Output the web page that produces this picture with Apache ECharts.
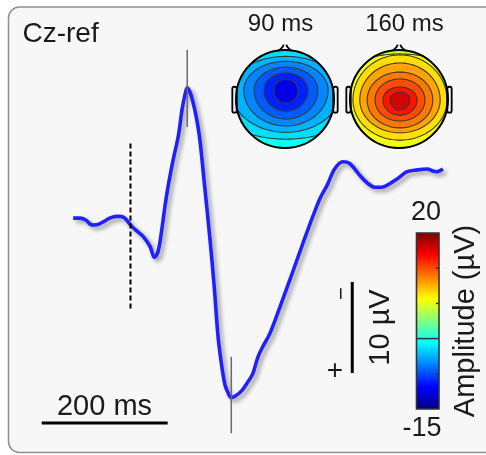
<!DOCTYPE html>
<html>
<head>
<meta charset="utf-8">
<script src="https://cdn.jsdelivr.net/npm/echarts@6/dist/echarts.min.js"></script>
<style>
html,body{margin:0;padding:0;background:#ffffff;}
#chart{width:486px;height:455px;}
</style>
</head>
<body>
<div id="chart"></div>
<script>
// ERP waveform at Cz (negative up), time in ms relative to stimulus onset
const TIME_MS = [-91,-80,-71,-64,-58,-50,-42,-33,-23,-17,
  -9,2,10,20,31,38,44,50,55,60,
  68,76,82,87,90,94,99,105,110,118,
  126,133,139,145,150,155,160,167,177,186,
  194,202,210,221,237,258,274,290,301,312,
  324,337,348,364,377,388,398,407,423,439,
  455,471,479,486,496];
const AMPLITUDE_UV = [0.0,0.0,0.2,0.65,0.75,0.65,0.35,0.0,-0.2,-0.2,
  0.0,0.9,1.4,2.0,3.1,4.3,3.6,1.1,-1.45,-3.6,
  -6.5,-9.05,-12.0,-13.7,-14.3,-13.9,-12.8,-10.9,-8.7,-3.3,
  2.2,7.6,13.0,16.3,18.3,19.2,19.7,19.5,18.9,18.0,
  17.1,15.3,14.1,12.7,9.8,5.8,2.7,-0.3,-2.2,-3.6,
  -5.4,-6.2,-6.0,-4.7,-3.8,-3.4,-3.4,-3.6,-4.3,-5.1,
  -5.3,-5.4,-5.2,-5.1,-5.4];

// latencies of the two topographies
const PEAK_LATENCIES_MS = [90, 160];
const PEAK_MARK_RANGES_UV = [[-18.5, -10], [15.2, 23.6]];
// stimulus onset marker
const ONSET_MS = 0;
const ONSET_RANGE_UV = [-8.2, 10];
// scale bars
const TIME_BAR_MS = [-141, 59];       // 200 ms
const TIME_BAR_LEVEL_UV = 22.5;
const AMP_BAR_UV = [7, 17];           // 10 µV
const AMP_BAR_TIME_MS = 352;

// colour scale
const AMP_RANGE = [-15, 20];
const JET = ['#00007f','#0000ff','#007fff','#00ffff','#7fff7f','#ffff00','#ff7f00','#ff0000','#7f0000'];
const COLORBAR_TICKS = [-8, -1, 6, 13];
const COLORBAR_DIVIDER = -1;

// scalp maps: contour levels (µV) from outside in, with contour radii in head units
const MAP90_FOCUS = [0.02, -0.18];
const MAP90_LEVELS = [-1.5, -3, -4.5, -6, -7.5, -9.5, -11.5];
const MAP90_RX     = [9, 1.63, 1.12, 0.86, 0.65, 0.45, 0.245];
const MAP90_RTOP   = [9, 0.92, 0.69, 0.59, 0.47, 0.35, 0.225];
const MAP90_RBOT   = [9, 1.00, 0.86, 0.73, 0.59, 0.43, 0.265];

const MAP160_FOCUS = [0.02, 0.02];
const MAP160_LEVELS = [5, 6.5, 8, 10, 11.5, 13, 15, 17];
const MAP160_RX     = [9, 1.53, 0.96, 0.82, 0.67, 0.51, 0.35, 0.20];
const MAP160_RTOP   = [9, 0.94, 0.92, 0.755, 0.57, 0.43, 0.265, 0.16];
const MAP160_RBOT   = [9, 1.53, 0.82, 0.67, 0.57, 0.43, 0.31, 0.20];

const FONT = '"Liberation Sans", Arial, Helvetica, sans-serif';
const TEXT_COLOR = '#1a1a1a';

function zip(a, b) { return a.map((v, i) => [v, b[i]]); }
function mapData(levels, rx, rt, rb) {
  return levels.map((v, i) => [v, rx[i], rt[i], rb[i]]);
}

// filled contour band, clipped radially to the unit head circle
function fieldRenderer(focus) {
  const N = 120;
  return function (params, api) {
    const rx = api.value(1), rt = api.value(2), rb = api.value(3);
    const fx = focus[0], fy = focus[1];
    const pts = [];
    for (let k = 0; k < N; k++) {
      const th = 2 * Math.PI * k / N;
      const dx = Math.cos(th), dy = Math.sin(th);
      const ry = dy < 0 ? rt : rb;
      const r = 1 / Math.sqrt((dx / rx) * (dx / rx) + (dy / ry) * (dy / ry));
      const b = fx * dx + fy * dy;
      const tmax = -b + Math.sqrt(b * b - (fx * fx + fy * fy) + 1);
      const rr = Math.min(r, tmax);
      pts.push(api.coord([fx + rr * dx, fy + rr * dy]));
    }
    return {
      type: 'polygon',
      shape: { points: pts },
      style: {
        fill: api.visual('color'),
        stroke: params.dataIndex === 0 ? null : '#3a3a3a',
        lineWidth: 1.1
      }
    };
  };
}

// head outline with nose and ears
function headRenderer(params, api) {
  const c = api.coord([0, 0]);
  const r = api.size([1, 1])[0];
  const ear = (x0, x1) => {
    const p0 = api.coord([x0, -0.25]);
    const p1 = api.coord([x1, 0.28]);
    return {
      type: 'rect',
      shape: { x: Math.min(p0[0], p1[0]), y: p0[1], width: Math.abs(p1[0] - p0[0]), height: p1[1] - p0[1], r: 2 },
      style: { fill: '#f2f2f2', stroke: '#000', lineWidth: 1.8 }
    };
  };
  const noseL = [api.coord([-0.13, -0.985]), api.coord([-0.05, -1.06]), api.coord([-0.03, -1.11])];
  const noseR = [api.coord([0.13, -0.985]), api.coord([0.05, -1.06]), api.coord([0.03, -1.11])];
  return {
    type: 'group',
    children: [
      ear(-1.075, -0.985),
      ear(0.985, 1.075),
      { type: 'polyline', shape: { points: noseL, smooth: 0.5 }, style: { stroke: '#000', lineWidth: 1.8, fill: null } },
      { type: 'polyline', shape: { points: noseR, smooth: 0.5 }, style: { stroke: '#000', lineWidth: 1.8, fill: null } },
      { type: 'circle', shape: { cx: c[0], cy: c[1], r: r }, style: { fill: null, stroke: '#000', lineWidth: 2 } }
    ]
  };
}

// colour bar with frame, ticks and divider
function colorbarRenderer(params, api) {
  const top = api.coord([0, AMP_RANGE[1]]);
  const bot = api.coord([1, AMP_RANGE[0]]);
  const x0 = top[0], x1 = bot[0], y0 = top[1], y1 = bot[1];
  const stops = JET.map((c, i) => ({ offset: i / (JET.length - 1), color: c })).reverse()
    .map(s => ({ offset: 1 - s.offset, color: s.color }));
  const children = [
    { type: 'rect', shape: { x: x0, y: y0, width: x1 - x0, height: y1 - y0 },
      style: { fill: { type: 'linear', x: 0, y: 0, x2: 0, y2: 1, colorStops: stops }, stroke: null } }
  ];
  COLORBAR_TICKS.forEach(t => {
    const p = api.coord([1, t]);
    if (t === COLORBAR_DIVIDER) {
      children.push({ type: 'line', shape: { x1: x0, y1: p[1], x2: x1, y2: p[1] }, style: { stroke: '#333', lineWidth: 1.5 } });
    } else {
      children.push({ type: 'line', shape: { x1: x1 - 3, y1: p[1], x2: x1, y2: p[1] }, style: { stroke: '#333', lineWidth: 1.5 } });
    }
  });
  children.push({ type: 'rect', shape: { x: x0, y: y0, width: x1 - x0, height: y1 - y0 },
    style: { fill: null, stroke: '#333', lineWidth: 1.6 } });
  return { type: 'group', children: children };
}

function label(text, x, y, size, opts) {
  opts = opts || {};
  return {
    type: 'text', x: x, y: y, z: 100, rotation: opts.rotation || 0, silent: true,
    style: {
      text: text, font: size + 'px ' + FONT, fill: TEXT_COLOR,
      align: opts.align || 'center', verticalAlign: 'middle',
      textAlign: opts.align || 'center', textVerticalAlign: 'middle'
    }
  };
}

const chart = echarts.init(document.getElementById('chart'), null, { renderer: 'canvas' });

const hidden = { show: false };
const option = {
  animation: false,
  backgroundColor: '#ffffff',
  grid: [
    { left: 29.7, top: 36, width: 428.4, height: 423.2 },   // waveform
    { left: 236, top: 50, width: 98, height: 98 },           // 90 ms map
    { left: 350, top: 50, width: 98, height: 98 },           // 160 ms map
    { left: 416.5, top: 233, width: 22.5, height: 176 }      // colour bar
  ],
  xAxis: [
    { type: 'value', gridIndex: 0, min: -160, max: 520, ...hidden },
    { type: 'value', gridIndex: 1, min: -1, max: 1, ...hidden },
    { type: 'value', gridIndex: 2, min: -1, max: 1, ...hidden },
    { type: 'value', gridIndex: 3, min: 0, max: 1, ...hidden }
  ],
  yAxis: [
    { type: 'value', gridIndex: 0, min: -20, max: 26, inverse: true, ...hidden },
    { type: 'value', gridIndex: 1, min: -1, max: 1, inverse: true, ...hidden },
    { type: 'value', gridIndex: 2, min: -1, max: 1, inverse: true, ...hidden },
    { type: 'value', gridIndex: 3, min: AMP_RANGE[0], max: AMP_RANGE[1], ...hidden }
  ],
  visualMap: {
    type: 'continuous', show: false, min: AMP_RANGE[0], max: AMP_RANGE[1],
    dimension: 0, seriesIndex: [6, 8], inRange: { color: JET }
  },
  graphic: [
    { type: 'rect', z: -10, silent: true,
      shape: { x: 8.5, y: 7, width: 560, height: 445.5, r: 11 },
      style: { fill: '#f7f7f7', stroke: '#8f8f8f', lineWidth: 1.5 } },
    label('Cz-ref', 22.5, 34.2, 28, { align: 'left' }),
    label('90 ms', 280.5, 24.5, 24),
    label('160 ms', 404.5, 24.5, 24),
    label('200 ms', 104.5, 407, 29),
    label('20', 426, 213, 27),
    label('-15', 422, 429, 27),
    label('Amplitude (\u00b5V)', 465.5, 321, 29, { rotation: Math.PI / 2 }),
    label('10 \u00b5V', 381, 327.5, 29, { rotation: Math.PI / 2 }),
    label('+', 335, 371, 28),
    label('\u2212', 342, 293.5, 22, { rotation: Math.PI / 2 })
  ],
  series: [
    { // 0: ERP waveform
      type: 'line', xAxisIndex: 0, yAxisIndex: 0, data: zip(TIME_MS, AMPLITUDE_UV),
      showSymbol: false, smooth: 0.35, z: 2,
      lineStyle: { color: '#2020ff', width: 3.6, shadowColor: 'rgba(0,0,0,0.38)', shadowBlur: 4, shadowOffsetX: 3, shadowOffsetY: 3 }
    },
    { // 1: stimulus onset
      type: 'line', xAxisIndex: 0, yAxisIndex: 0, showSymbol: false, z: 3,
      data: ONSET_RANGE_UV.map(v => [ONSET_MS, v]),
      lineStyle: { color: '#000', width: 2, type: [5, 3] }
    },
    { // 2: 90 ms marker
      type: 'line', xAxisIndex: 0, yAxisIndex: 0, showSymbol: false, z: 3,
      data: PEAK_MARK_RANGES_UV[0].map(v => [PEAK_LATENCIES_MS[0], v]),
      lineStyle: { color: '#6b6b6b', width: 1.5 }
    },
    { // 3: 160 ms marker
      type: 'line', xAxisIndex: 0, yAxisIndex: 0, showSymbol: false, z: 3,
      data: PEAK_MARK_RANGES_UV[1].map(v => [PEAK_LATENCIES_MS[1], v]),
      lineStyle: { color: '#6b6b6b', width: 1.5 }
    },
    { // 4: time scale bar
      type: 'line', xAxisIndex: 0, yAxisIndex: 0, showSymbol: false, z: 3,
      data: TIME_BAR_MS.map(t => [t, TIME_BAR_LEVEL_UV]),
      lineStyle: { color: '#000', width: 3 }
    },
    { // 5: amplitude scale bar
      type: 'line', xAxisIndex: 0, yAxisIndex: 0, showSymbol: false, z: 3,
      data: AMP_BAR_UV.map(v => [AMP_BAR_TIME_MS, v]),
      lineStyle: { color: '#000', width: 3 }
    },
    { // 6: 90 ms scalp map
      type: 'custom', coordinateSystem: 'cartesian2d', xAxisIndex: 1, yAxisIndex: 1, clip: false, z: 4,
      encode: { x: 1, y: 2 },
      renderItem: fieldRenderer(MAP90_FOCUS),
      data: mapData(MAP90_LEVELS, MAP90_RX, MAP90_RTOP, MAP90_RBOT)
    },
    { // 7: 90 ms head outline
      type: 'custom', coordinateSystem: 'cartesian2d', xAxisIndex: 1, yAxisIndex: 1, clip: false, z: 5,
      renderItem: headRenderer, data: [[0, 0]]
    },
    { // 8: 160 ms scalp map
      type: 'custom', coordinateSystem: 'cartesian2d', xAxisIndex: 2, yAxisIndex: 2, clip: false, z: 4,
      encode: { x: 1, y: 2 },
      renderItem: fieldRenderer(MAP160_FOCUS),
      data: mapData(MAP160_LEVELS, MAP160_RX, MAP160_RTOP, MAP160_RBOT)
    },
    { // 9: 160 ms head outline
      type: 'custom', coordinateSystem: 'cartesian2d', xAxisIndex: 2, yAxisIndex: 2, clip: false, z: 5,
      renderItem: headRenderer, data: [[0, 0]]
    },
    { // 10: colour bar
      type: 'custom', coordinateSystem: 'cartesian2d', xAxisIndex: 3, yAxisIndex: 3, clip: false, z: 4,
      renderItem: colorbarRenderer, data: [[0, 0]]
    }
  ]
};
chart.setOption(option);
</script>
</body>
</html>
